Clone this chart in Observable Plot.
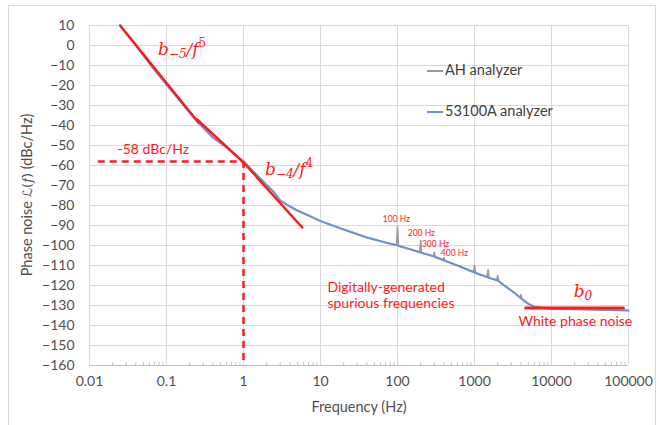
<!DOCTYPE html>
<html><head><meta charset="utf-8">
<script src="https://cdn.jsdelivr.net/npm/d3@7"></script>
<script src="https://cdn.jsdelivr.net/npm/@observablehq/plot@0.6"></script>
<style>
body{margin:0;background:#fff;}
#wrap{position:relative;width:659px;height:425px;overflow:hidden;font-family:Lato,sans-serif;}
#frame{position:absolute;left:8px;top:5px;width:648px;height:440px;border:1px solid #d9d9d9;box-sizing:border-box;}
.leg{position:absolute;font-size:14.5px;color:#404040;white-space:nowrap;}
.legline{position:absolute;height:2px;width:16px;}
</style></head><body><div id="wrap"><div id="frame"></div></div>
<script>
// ---- data ----
const xTicks = [0.01, 0.1, 1, 10, 100, 1000, 10000, 100000];
const xTickLabels = ["0.01", "0.1", "1", "10", "100", "1000", "10000", "100000"];
const yTicks = [10, 0, -10, -20, -30, -40, -50, -60, -70, -80, -90, -100, -110, -120, -130, -140, -150, -160];

// 53100A analyzer (blue)
const blueF  = [0.025, 0.04, 0.063, 0.1, 0.16, 0.25, 0.4, 0.63, 1, 1.6, 2.5, 3, 4, 5, 7, 10, 20, 40, 70, 100, 200, 300, 400, 600, 1000, 1500, 2000, 2500, 3000, 3500, 4000, 5000, 6000, 8000, 10000, 30000, 100000];
const blueDb = [10, 0, -10, -19.5, -29, -38, -46, -51.5, -58, -66, -73.5, -77.5, -80.5, -82.5, -85, -87.8, -92, -96, -98.5, -100, -103.5, -105.5, -107.4, -110, -113.5, -116, -117.5, -120.3, -122.5, -124.5, -126.3, -129.2, -130.6, -131.3, -131.6, -132, -132.5];

// AH analyzer (gray), with the spurs
const ahF  = [0.025, 0.04, 0.063, 0.1, 0.16, 0.25, 0.4, 0.63, 1, 1.6, 2.5, 3, 4, 5, 7, 10, 20, 40, 70, 97, 100, 103, 195, 200, 205, 292, 300, 308, 390, 400, 410, 600, 970, 1000, 1030, 1450, 1500, 1550, 1940, 2000, 2060, 2500, 3000, 3500, 3900, 4000, 4100, 5000, 6000, 8000, 10000, 30000, 100000];
const ahDb = [10, 0, -10, -19.5, -29, -38, -46, -51.5, -58, -66, -73.5, -77.5, -80.5, -82.5, -85, -87.8, -92, -96, -98.5, -99.8, -90.5, -100.2, -103.3, -97.5, -103.7, -105.3, -103.5, -105.7, -107.2, -106, -107.6, -110, -113.3, -110, -113.7, -115.8, -112, -116.2, -117.3, -115, -117.7, -120.3, -122.5, -124.5, -126, -124.5, -126.5, -129.2, -130.6, -131.3, -131.6, -132, -132.5];

// fitted power-law segments
const fit5F = [0.025, 0.26];        const fit5Db = [10, -38.5];
const fit4F = [0.25, 1, 5.8];       const fit4Db = [-37, -58.5, -91];
const whiteF = [4600, 86000];       const whiteDb = [-131.3, -131.3];
const markF = 1; const markDb = -58; const markStartF = 0.013;

// minor x ticks
const minorF = [];
for (const d of [0.01, 0.1, 1, 10, 100, 1000, 10000]) for (const m of [2,3,4,5,6,7,8,9]) minorF.push(+(d*m).toPrecision(3));

// annotation texts
const spurLabels = ["100 Hz", "200 Hz", "300 Hz", "400 Hz"];
const spurLabelF = [97, 204, 312, 549];
const spurLabelDb = [-87, -94, -99.5, -104];
const noteTexts = ["-58 dBc/Hz", "Digitally-generated", "spurious frequencies", "White phase noise"];
const noteF = [0.0231, 12.3, 12.3, 3725];
const noteDb = [-52, -121, -129, -138];

// ---- build ----
const blue = blueF.map((f, i) => ({f, db: blueDb[i]}));
const ah = ahF.map((f, i) => ({f, db: ahDb[i]}));
const fit5 = fit5F.map((f, i) => ({f, db: fit5Db[i]}));
const fit4 = fit4F.map((f, i) => ({f, db: fit4Db[i]}));
const white = whiteF.map((f, i) => ({f, db: whiteDb[i]}));
const spurs = spurLabels.map((t, i) => ({t, f: spurLabelF[i], db: spurLabelDb[i]}));
const notes = noteTexts.map((t, i) => ({t, f: noteF[i], db: noteDb[i]}));
const RED = "#ff1a1a";

const plot = Plot.plot({
  width: 659, height: 425,
  marginLeft: 89, marginRight: 31, marginTop: 25, marginBottom: 60,
  style: {fontFamily: "Lato, sans-serif", fontSize: "14px", color: "#505050", background: "transparent", overflow: "visible"},
  x: {type: "log", domain: [0.01, 100000], ticks: xTicks, tickFormat: d => xTickLabels[xTicks.indexOf(d)], tickSize: 0, tickPadding: 11, label: null},
  y: {domain: [-160, 10], ticks: yTicks, tickSize: 0, tickPadding: 15, label: null},
  marks: [
    Plot.gridX(xTicks, {stroke: "#d9d9d9", strokeOpacity: 1}),
    Plot.gridY(yTicks, {stroke: "#d9d9d9", strokeOpacity: 1}),
    Plot.ruleY([-160], {stroke: "#bfbfbf"}),
    Plot.ruleX(minorF, {y1: -160, y2: -158.6, stroke: "#bfbfbf"}),
    Plot.line(ah, {x: "f", y: "db", stroke: "#9a9a9a", strokeWidth: 1.6}),
    Plot.line(blue, {x: "f", y: "db", stroke: "#7092cc", strokeWidth: 2}),
    Plot.line(fit5, {x: "f", y: "db", stroke: RED, strokeWidth: 2.4}),
    Plot.line(fit4, {x: "f", y: "db", stroke: RED, strokeWidth: 2.4}),
    Plot.line(white, {x: "f", y: "db", stroke: RED, strokeWidth: 3}),
    Plot.ruleY([markDb], {x1: markStartF, x2: markF, stroke: RED, strokeWidth: 2.5, strokeDasharray: "7,5"}),
    Plot.ruleX([markF], {y1: markDb, y2: -160, stroke: RED, strokeWidth: 2.5, strokeDasharray: "7,5"}),
    Plot.text(spurs, {x: "f", y: "db", text: "t", fill: RED, fontSize: 8.5, textAnchor: "middle"}),
    Plot.text(notes, {x: "f", y: "db", text: "t", fill: RED, fontSize: 14, textAnchor: "start"}),
    Plot.text(["Frequency (Hz)"], {frameAnchor: "bottom", dy: 46, fill: "#505050", fontSize: 14.5})
  ]
});
document.getElementById("wrap").appendChild(plot);
plot.style.position = "absolute"; plot.style.left = "0"; plot.style.top = "0";

const sx = plot.scale("x"), sy = plot.scale("y");
const svg = d3.select(plot);

// y axis title
const yt = svg.append("text")
  .attr("transform", `translate(28,${(sy.apply(10) + sy.apply(-160)) / 2}) rotate(-90)`)
  .attr("text-anchor", "middle").attr("dominant-baseline", "middle")
  .attr("fill", "#505050").style("font-size", "14.5px").style("font-family", "Lato, sans-serif");
yt.append("tspan").text("Phase noise ");
yt.append("tspan").style("font-family", "DejaVu Sans").style("font-size", "13px").text("ℒ(");
yt.append("tspan").style("font-family", "DejaVu Serif").style("font-style", "italic").style("font-size", "13px").text("f");
yt.append("tspan").style("font-family", "DejaVu Sans").style("font-size", "13px").text(")");
yt.append("tspan").text(" (dBc/Hz)");

// math annotations
const mathNotes = [
  {f: 0.0787, db: -2.5, sub: "−5", sup: "5"},
  {f: 1.93, db: -62.5, sub: "−4", sup: "4"},
  {f: 26000, db: -123.5, sub: "0", sup: null, anchor: "middle"}
];
for (const m of mathNotes) {
  const t = svg.append("text")
    .attr("x", sx.apply(m.f)).attr("y", sy.apply(m.db))
    .attr("dominant-baseline", "middle").attr("text-anchor", m.anchor || "start")
    .attr("fill", RED).style("font-family", "DejaVu Serif").style("font-style", "italic").style("font-size", "17px");
  t.append("tspan").text("b");
  t.append("tspan").attr("dy", 4).style("font-size", "12px").text(m.sub);
  if (m.sup) {
    t.append("tspan").attr("dy", -4).text("/f");
    t.append("tspan").attr("dy", -7).style("font-size", "12px").style("font-style", "normal").text(m.sup);
  }
}

// legend (in-plot)
const wrap = document.getElementById("wrap");
const legend = [["AH analyzer", "#9a9a9a", 71], ["53100A analyzer", "#7092cc", 112]];
for (const [label, color, y] of legend) {
  const l = document.createElement("div"); l.className = "legline";
  l.style.left = "427px"; l.style.top = (y - 1) + "px"; l.style.background = color; wrap.appendChild(l);
  const t = document.createElement("div"); t.className = "leg"; t.textContent = label;
  t.style.left = "445px"; t.style.top = (y - 10) + "px"; wrap.appendChild(t);
}
</script>
</body></html>
